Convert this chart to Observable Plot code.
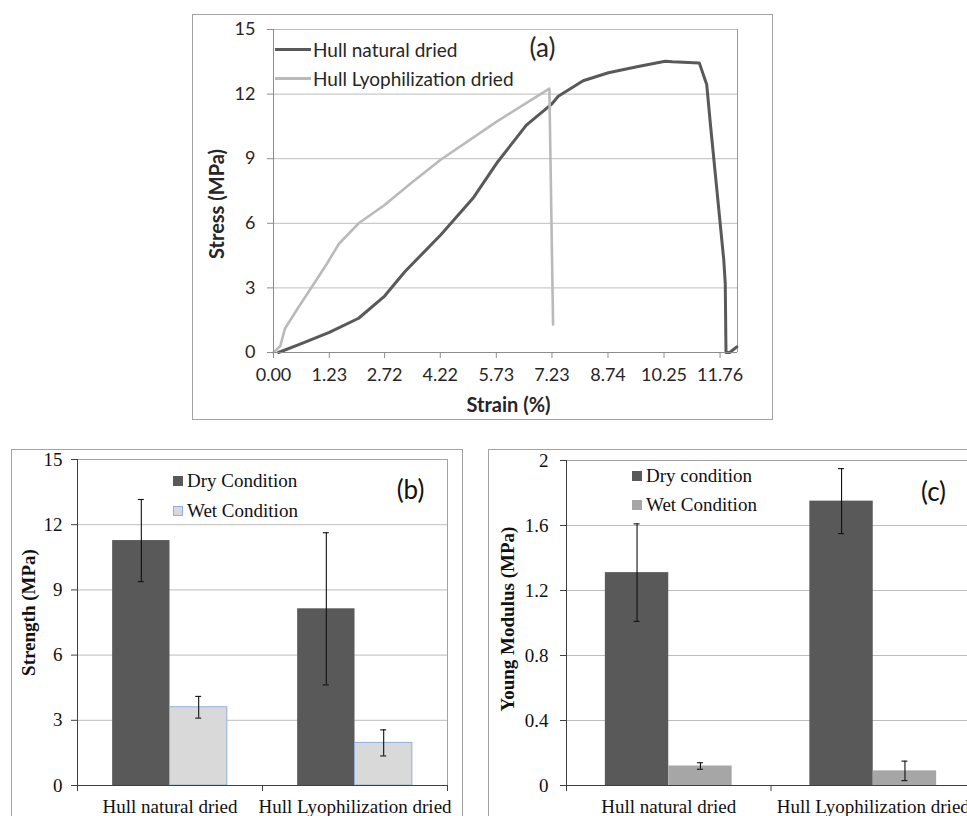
<!DOCTYPE html>
<html>
<head>
<meta charset="utf-8">
<script src="https://cdn.jsdelivr.net/npm/d3@7"></script>
<script src="https://cdn.jsdelivr.net/npm/@observablehq/plot@0.6"></script>
<style>
  html, body { margin: 0; padding: 0; background: #fff; }
  body { width: 967px; height: 816px; overflow: hidden; position: relative; }
  .frame { position: absolute; box-sizing: border-box; border: 1.5px solid #a3a3a3; pointer-events: none; }
  .legend { position: absolute; }
  .legend .row { display: flex; align-items: center; white-space: nowrap; }
  .la { font-family: Lato, "Open Sans", sans-serif; font-size: 19px; color: #262626; }
  .la .row { height: 24px; }
  .la .sw { display: inline-block; width: 36px; height: 3px; margin-right: 2px; }
  .lb { font-family: "Liberation Serif", "Times New Roman", serif; font-size: 19px; color: #111; }
  .lb .row { height: 22px; }
  .lb .sq { display: inline-block; width: 10px; height: 10px; margin-right: 4px; box-sizing: border-box; }
</style>
</head>
<body>
<script>
// ---------- Panel (a): stress–strain curves ----------
const strainTicks = [0, 1.23, 2.72, 4.22, 5.73, 7.23, 8.74, 10.25, 11.76];
const strainAxisMax = 12.23;
const stressTicks = [0, 3, 6, 9, 12, 15];

const naturalStrain = [0.11, 0.6, 1.23, 2.02, 2.72, 3.27, 4.23, 5.10, 5.77, 6.54, 7.23, 7.40, 8.07, 8.75, 9.52, 10.28, 10.47, 11.20, 11.40, 11.50, 11.86, 11.90, 11.92, 12.02, 12.21];
const naturalStress = [0, 0.4, 0.93, 1.59, 2.62, 3.76, 5.46, 7.16, 8.86, 10.56, 11.55, 11.9, 12.62, 12.99, 13.27, 13.53, 13.50, 13.45, 12.45, 10.6, 4.3, 3.2, 0.0, 0.0, 0.26];

const lyoStrain = [0, 0.15, 0.25, 0.55, 0.8, 1.17, 1.49, 2.02, 2.72, 3.42, 4.23, 5.74, 7.16, 7.26];
const lyoStress = [0, 0.3, 1.1, 2.1, 2.9, 4.1, 5.05, 6.0, 6.85, 7.85, 8.95, 10.72, 12.25, 1.3];

const seriesA = ["Hull natural dried", "Hull Lyophilization dried"];
const colorsA = ["#595959", "#bababa"];

// ---------- Panel (b): strength ----------
const categories = ["Hull natural dried", "Hull Lyophilization dried"];
const conditionsB = ["Dry Condition", "Wet Condition"];
const strengthDry = [11.27, 8.13];
const strengthDryErr = [1.89, 3.5];
const strengthWet = [3.6, 1.96];
const strengthWetErr = [0.5, 0.6];
const strengthTicks = [0, 3, 6, 9, 12, 15];

// ---------- Panel (c): Young modulus ----------
const conditionsC = ["Dry condition", "Wet Condition"];
const modulusDry = [1.31, 1.75];
const modulusDryErr = [0.3, 0.2];
const modulusWet = [0.12, 0.09];
const modulusWetErr = [0.02, 0.06];
const modulusTicks = [0, 0.4, 0.8, 1.2, 1.6, 2];

const barFrac = 0.31; // bar width as a fraction of the category band

function place(node, left, top) {
  node.style.position = "absolute";
  node.style.left = left + "px";
  node.style.top = top + "px";
  document.body.appendChild(node);
  return node;
}
function frame(left, top, w, h) {
  const d = document.createElement("div");
  d.className = "frame";
  d.style.left = left + "px"; d.style.top = top + "px";
  d.style.width = w + "px"; d.style.height = h + "px";
  document.body.appendChild(d);
}

// ===== Panel (a) =====
// The strain axis is a category-style axis: tick labels are equally spaced.
// Map strain to "tick slot" units (piecewise linear between tick labels).
const tickInterval = (strainTicks[strainTicks.length - 1] - strainTicks[1]) / (strainTicks.length - 2);
const strainPos = s => s <= strainTicks[1] ? s / strainTicks[1] : 1 + (s - strainTicks[1]) / tickInterval;

const natural = naturalStrain.map((s, i) => ({pos: strainPos(s), stress: naturalStress[i]}));
const lyo = lyoStrain.map((s, i) => ({pos: strainPos(s), stress: lyoStress[i]}));
const tickPositions = strainTicks.map(strainPos);
const xMaxPos = strainPos(strainAxisMax);

const WA = 579, HA = 404, mlA = 80, mrA = 35, mtA = 14, mbA = 67;
const sans = "Lato, 'Open Sans', sans-serif";
const serif = "'Liberation Serif', 'Times New Roman', serif";

const plotA = Plot.plot({
  width: WA, height: HA, marginLeft: mlA, marginRight: mrA, marginTop: mtA, marginBottom: mbA,
  style: {fontFamily: sans, fontSize: "18px", color: "#262626", background: "transparent", overflow: "visible"},
  x: {domain: [0, xMaxPos]},
  y: {domain: [0, 15]},
  marks: [
    Plot.ruleY(stressTicks.filter(d => d > 0), {stroke: "#bdbdbd"}),
    Plot.ruleX([xMaxPos], {stroke: "#9a9a9a"}),
    Plot.line(natural, {x: "pos", y: "stress", stroke: colorsA[0], strokeWidth: 3, strokeLinejoin: "round"}),
    Plot.line(lyo, {x: "pos", y: "stress", stroke: colorsA[1], strokeWidth: 2.6, strokeLinejoin: "round"}),
    Plot.ruleX([0], {stroke: "#8c8c8c"}),
    Plot.ruleY([0], {stroke: "#8c8c8c"}),
    Plot.axisY({ticks: stressTicks, tickSize: 6, tickPadding: 12, stroke: "#8c8c8c", label: null}),
    Plot.axisX({ticks: tickPositions, tickFormat: d => d3.format(".2f")(strainTicks[tickPositions.indexOf(d)]), tickSize: 6, tickPadding: 10, stroke: "#8c8c8c", label: null}),
    Plot.text(["Strain (%)"], {frameAnchor: "bottom", textAnchor: "middle", lineAnchor: "middle", dx: 3, dy: 53, fontWeight: "bold", fontSize: 20}),
    Plot.text(["Stress (MPa)"], {frameAnchor: "left", textAnchor: "middle", lineAnchor: "middle", rotate: -90, dx: -56, dy: 13, fontWeight: "bold", fontSize: 20}),
    Plot.text(["(a)"], {frameAnchor: "top-left", textAnchor: "middle", lineAnchor: "middle", dx: 269, dy: 19, fontSize: 26})
  ]
});
place(plotA, 193, 15);
frame(192, 14, 581, 406);

const legA = document.createElement("div");
legA.className = "legend la";
legA.innerHTML = seriesA.map((s, i) =>
  `<div class="row"><span class="sw" style="background:${colorsA[i]}"></span><span>${s}</span></div>`).join("");
legA.style.rowGap = "5px";
legA.style.display = "flex"; legA.style.flexDirection = "column";
place(legA, 275, 37);

// ===== Bar panels helper =====
function barData(dry, dryErr, wet, wetErr) {
  const out = [];
  categories.forEach((c, i) => {
    out.push({cat: c, cond: 0, value: dry[i], err: dryErr[i], x1: i + 0.5 - barFrac, x2: i + 0.5, xc: i + 0.5 - barFrac / 2});
    out.push({cat: c, cond: 1, value: wet[i], err: wetErr[i], x1: i + 0.5, x2: i + 0.5 + barFrac, xc: i + 0.5 + barFrac / 2});
  });
  return out;
}

function barPanel({data, ticks, tickFormat, W, H, ml, mr, mt, mb, fills, strokes, title, titleDx, titleDy, tag, tagDx, tagDy, yTickPadding}) {
  const ymax = ticks[ticks.length - 1];
  return Plot.plot({
    width: W, height: H, marginLeft: ml, marginRight: mr, marginTop: mt, marginBottom: mb,
    style: {fontFamily: serif, fontSize: "19px", color: "#111", background: "transparent", overflow: "visible"},
    x: {domain: [0, categories.length]},
    y: {domain: [0, ymax]},
    marks: [
      Plot.ruleY(ticks.filter(d => d > 0 && d < ymax), {stroke: "#bdbdbd"}),
      Plot.ruleY([ymax], {stroke: "#a3a3a3"}),
      Plot.ruleX([categories.length], {stroke: "#a3a3a3"}),
      Plot.rectY(data, {x1: "x1", x2: "x2", y1: 0, y2: "value", fill: d => fills[d.cond], stroke: d => strokes[d.cond], strokeWidth: 1}),
      Plot.ruleX(data, {x: "xc", y1: d => d.value - d.err, y2: d => d.value + d.err, stroke: "#111", strokeWidth: 1.1}),
      Plot.ruleY(data, {y: d => d.value + d.err, x1: "xc", x2: "xc", insetLeft: -3, insetRight: -3, stroke: "#111", strokeWidth: 1.1}),
      Plot.ruleY(data, {y: d => d.value - d.err, x1: "xc", x2: "xc", insetLeft: -3, insetRight: -3, stroke: "#111", strokeWidth: 1.1}),
      Plot.ruleX([0], {stroke: "#404040"}),
      Plot.ruleY([0], {stroke: "#404040"}),
      Plot.axisY({ticks, tickFormat, tickSize: 6, tickPadding: yTickPadding, stroke: "#404040", label: null}),
      Plot.axisX({ticks: d3.range(categories.length + 1), tickFormat: () => "", tickSize: 6, stroke: "#404040", label: null}),
      Plot.axisX({ticks: categories.map((c, i) => i + 0.5), tickFormat: d => categories[Math.floor(d)], tickSize: 0, tickPadding: 14, label: null}),
      Plot.text([title], {frameAnchor: "left", textAnchor: "middle", lineAnchor: "middle", rotate: -90, dx: titleDx, dy: titleDy, fontWeight: "bold", fontSize: 19}),
      Plot.text([tag], {frameAnchor: "top-right", textAnchor: "middle", lineAnchor: "middle", dx: tagDx, dy: tagDy, fontSize: 26, fontFamily: sans})
    ]
  });
}

// ===== Panel (b) =====
const fillsB = ["#595959", "#d9d9d9"];
const strokesB = ["none", "#8fb0de"];
const plotB = barPanel({
  data: barData(strengthDry, strengthDryErr, strengthWet, strengthWetErr),
  ticks: strengthTicks, tickFormat: d => `${d}`,
  W: 451, H: 387, ml: 66, mr: 15, mt: 10, mb: 51,
  fills: fillsB, strokes: strokesB,
  title: "Strength (MPa)", titleDx: -49, titleDy: -10,
  tag: "(b)", tagDx: -37, tagDy: 31, yTickPadding: 9
});
place(plotB, 11, 449);
frame(11, 448.5, 451.5, 420);

const legB = document.createElement("div");
legB.className = "legend lb";
legB.style.display = "flex"; legB.style.flexDirection = "column"; legB.style.rowGap = "8px";
legB.innerHTML = conditionsB.map((s, i) =>
  `<div class="row"><span class="sq" style="background:${fillsB[i]};${strokesB[i] !== "none" ? "border:1px solid " + strokesB[i] : ""}"></span><span>${s}</span></div>`).join("");
place(legB, 173, 470);

// ===== Panel (c) =====
const fillsC = ["#595959", "#a6a6a6"];
const strokesC = ["none", "none"];
const plotC = barPanel({
  data: barData(modulusDry, modulusDryErr, modulusWet, modulusWetErr),
  ticks: modulusTicks, tickFormat: d => `${d}`,
  W: 520, H: 387, ml: 78, mr: 33, mt: 11, mb: 51,
  fills: fillsC, strokes: strokesC,
  title: "Young Modulus (MPa)", titleDx: -59, titleDy: -4,
  tag: "(c)", tagDx: -42, tagDy: 32, yTickPadding: 12
});
place(plotC, 488, 449);
frame(487.5, 448.5, 600, 420);

const legC = document.createElement("div");
legC.className = "legend lb";
legC.style.display = "flex"; legC.style.flexDirection = "column"; legC.style.rowGap = "7px";
legC.innerHTML = conditionsC.map((s, i) =>
  `<div class="row"><span class="sq" style="background:${fillsC[i]}"></span><span>${s}</span></div>`).join("");
place(legC, 632, 465);
</script>
</body>
</html>
